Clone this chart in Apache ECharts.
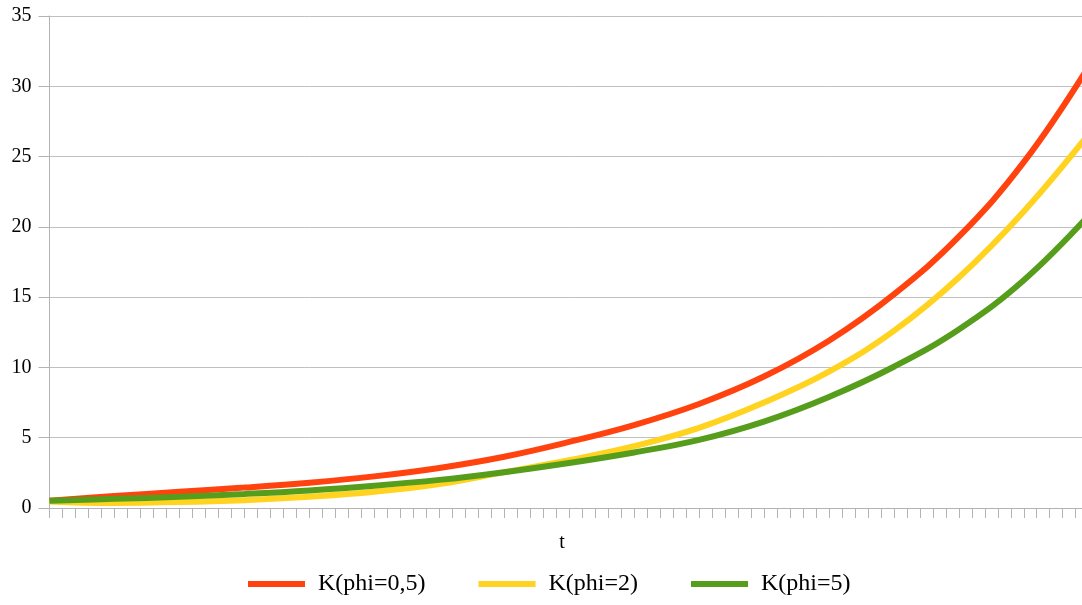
<!DOCTYPE html>
<html>
<head>
<meta charset="utf-8">
<script src="https://cdn.jsdelivr.net/npm/echarts@6/dist/echarts.min.js"></script>
<style>
  html, body { margin: 0; padding: 0; background: #ffffff; overflow: hidden; width: 1082px; height: 605px; }
  /* the drawing runs a few pixels past the right edge of the page */
  #chart { width: 1090px; height: 605px; }
</style>
</head>
<body>
<div id="chart"></div>
<script>
// Sample times along the t axis
const tValues = [0, 5, 10, 15, 20, 25, 30, 35, 40, 45, 50, 55, 60, 65, 70, 75, 80];

// K(t) for each phi
const kPhi05 = [0.52, 0.85, 1.15, 1.45, 1.8, 2.25, 2.85, 3.65, 4.7, 5.9, 7.4, 9.35, 11.9, 15.2, 19.3, 24.6, 31.4];
const kPhi2  = [0.47, 0.36, 0.42, 0.56, 0.8, 1.15, 1.7, 2.55, 3.4, 4.4, 5.7, 7.5, 9.7, 12.6, 16.4, 21.1, 26.6];
const kPhi5  = [0.52, 0.65, 0.8, 1.0, 1.25, 1.58, 2.0, 2.55, 3.2, 3.95, 4.85, 6.15, 7.9, 10.05, 12.7, 16.2, 20.8];

const seriesNames = ['K(phi=0,5)', 'K(phi=2)', 'K(phi=5)'];
const seriesColors = ['#ff420e', '#ffd320', '#579d1c'];
const seriesValues = [kPhi05, kPhi2, kPhi5];

const yTicks = [0, 5, 10, 15, 20, 25, 30, 35];

const font = '"Liberation Serif", "Times New Roman", serif';

const chart = echarts.init(document.getElementById('chart'), null, { renderer: 'canvas' });

chart.setOption({
  animation: false,
  backgroundColor: '#ffffff',
  textStyle: { fontFamily: font },
  // t = 80 sits just beyond the visible right edge
  grid: { left: 49.5, top: 16, width: 1039.2, bottom: 97, containLabel: false },
  legend: {
    bottom: 4,
    left: 243,
    icon: 'rect',
    itemWidth: 57,
    itemHeight: 6,
    itemGap: 53,
    textStyle: { fontFamily: font, fontSize: 24, color: '#000000', padding: [0, 0, 0, 8] },
    data: seriesNames
  },
  xAxis: {
    type: 'value',
    min: 0,
    max: 80,
    interval: 1,
    name: 't',
    nameLocation: 'middle',
    nameGap: 25,
    nameTextStyle: { fontFamily: font, fontSize: 20, color: '#000000', padding: [0, 14, 0, 0] },
    axisLine: { lineStyle: { color: '#b3b3b3', width: 1 } },
    axisTick: { show: true, length: 10, lineStyle: { color: '#b3b3b3', width: 1 } },
    axisLabel: { show: false },
    splitLine: { show: false }
  },
  yAxis: {
    type: 'value',
    min: yTicks[0],
    max: yTicks[yTicks.length - 1],
    interval: 5,
    axisLine: { show: true, lineStyle: { color: '#b3b3b3', width: 1 } },
    axisTick: { show: true, length: 11, lineStyle: { color: '#b3b3b3', width: 1 } },
    axisLabel: { fontFamily: font, fontSize: 20, color: '#000000', margin: 18 },
    splitLine: { show: true, lineStyle: { color: '#c0c0c0', width: 1 } }
  },
  series: seriesNames.map((name, i) => ({
    name: name,
    type: 'line',
    smooth: 0.4,
    showSymbol: false,
    symbol: 'none',
    color: seriesColors[i],
    lineStyle: { width: 6, color: seriesColors[i], cap: 'butt' },
    data: tValues.map((t, j) => [t, seriesValues[i][j]])
  }))
});
</script>
</body>
</html>
